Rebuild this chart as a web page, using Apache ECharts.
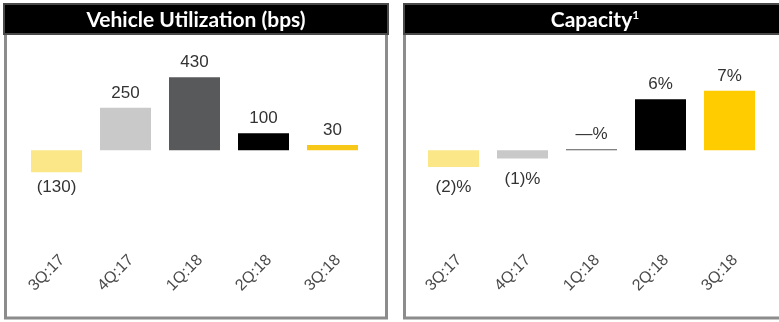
<!DOCTYPE html>
<html>
<head>
<meta charset="utf-8">
<script src="https://cdn.jsdelivr.net/npm/echarts@6/dist/echarts.min.js"></script>
<style>
  html, body { margin: 0; padding: 0; background: #fff; }
  #chart { width: 779px; height: 322px; }
</style>
</head>
<body>
<div id="chart"></div>
<script>
// quarters shared by both panels
const quarters = ['3Q:17', '4Q:17', '1Q:18', '2Q:18', '3Q:18'];
const barColors = ['#FBE788', '#C9C9C9', '#58595B', '#000000', '#F7C818'];

// vehicle utilization, bps
const utilValues = [-130, 250, 430, 100, 30];
const utilLabels = ['(130)', '250', '430', '100', '30'];

// capacity, percent
const capValues = [-2, -1, 0, 6, 7];
const capLabels = ['(2)%', '(1)%', '—%', '6%', '7%'];
const capColors = ['#FBE788', '#C9C9C9', '#58595B', '#000000', '#FFCC00'];

const chart = echarts.init(document.getElementById('chart'));

function makeData(values, labels, colors, negDistance) {
  return values.map((v, i) => ({
    value: v,
    itemStyle: { color: colors[i] },
    label: {
      formatter: labels[i],
      position: v < 0 ? 'bottom' : 'top',
      distance: v < 0 ? negDistance : 6,
    },
  }));
}

const labelStyle = {
  show: true,
  fontFamily: 'Liberation Sans',
  fontSize: 17,
  color: '#333333',
};

function xAxisFor(gridIndex) {
  return {
    type: 'category',
    gridIndex: gridIndex,
    data: quarters,
    axisLine: { show: false, onZero: false },
    axisTick: { show: false },
    axisLabel: {
      rotate: 45,
      margin: 12,
      verticalAlign: 'top',
      fontFamily: 'Liberation Sans',
      fontSize: 16,
      color: '#4a4a4a',
    },
  };
}

chart.setOption({
  animation: false,
  graphic: [
    // left panel
    { type: 'rect', shape: { x: 5.5, y: 20, width: 381, height: 298 },
      style: { fill: '#fff', stroke: '#8c8c8c', lineWidth: 3 }, z: -10 },
    { type: 'rect', shape: { x: 4, y: 4, width: 384, height: 30 },
      style: { fill: '#000', stroke: '#4a4a4a', lineWidth: 2 }, z: -5 },
    { type: 'text', x: 196, y: 20,
      style: { text: 'Vehicle Utilization (bps)', fill: '#fff', fontFamily: 'Lato',
        fontWeight: 'bold', fontSize: 21, align: 'center', verticalAlign: 'middle' } },
    // right panel
    { type: 'rect', shape: { x: 404.5, y: 20, width: 400, height: 298 },
      style: { fill: '#fff', stroke: '#8c8c8c', lineWidth: 3 }, z: -10 },
    { type: 'rect', shape: { x: 404, y: 4, width: 400, height: 30 },
      style: { fill: '#000', stroke: '#4a4a4a', lineWidth: 2 }, z: -5 },
    { type: 'text', x: 595, y: 20,
      style: { text: 'Capacity{s|1}', fill: '#fff', fontFamily: 'Lato',
        fontWeight: 'bold', fontSize: 21, align: 'center', verticalAlign: 'middle',
        rich: { s: { fontFamily: 'Lato', fontWeight: 'bold', fontSize: 12, fill: '#fff',
          verticalAlign: 'top', padding: [0, 0, 8, 0] } } } },
  ],
  grid: [
    { left: 22, width: 345, top: 45, height: 195 },
    { left: 419, width: 345, top: 45, height: 195 },
  ],
  xAxis: [xAxisFor(0), xAxisFor(1)],
  yAxis: [
    { type: 'value', gridIndex: 0, min: -530, max: 620, show: false, splitLine: { show: false } },
    { type: 'value', gridIndex: 1, min: -10.6, max: 12.4, show: false, splitLine: { show: false } },
  ],
  series: [
    {
      type: 'bar', xAxisIndex: 0, yAxisIndex: 0, barWidth: 51,
      label: labelStyle,
      data: makeData(utilValues, utilLabels, barColors, 7),
    },
    {
      type: 'bar', xAxisIndex: 1, yAxisIndex: 1, barWidth: 51, barMinHeight: 1,
      label: labelStyle,
      data: makeData(capValues, capLabels, capColors, 12),
    },
  ],
});
</script>
</body>
</html>
